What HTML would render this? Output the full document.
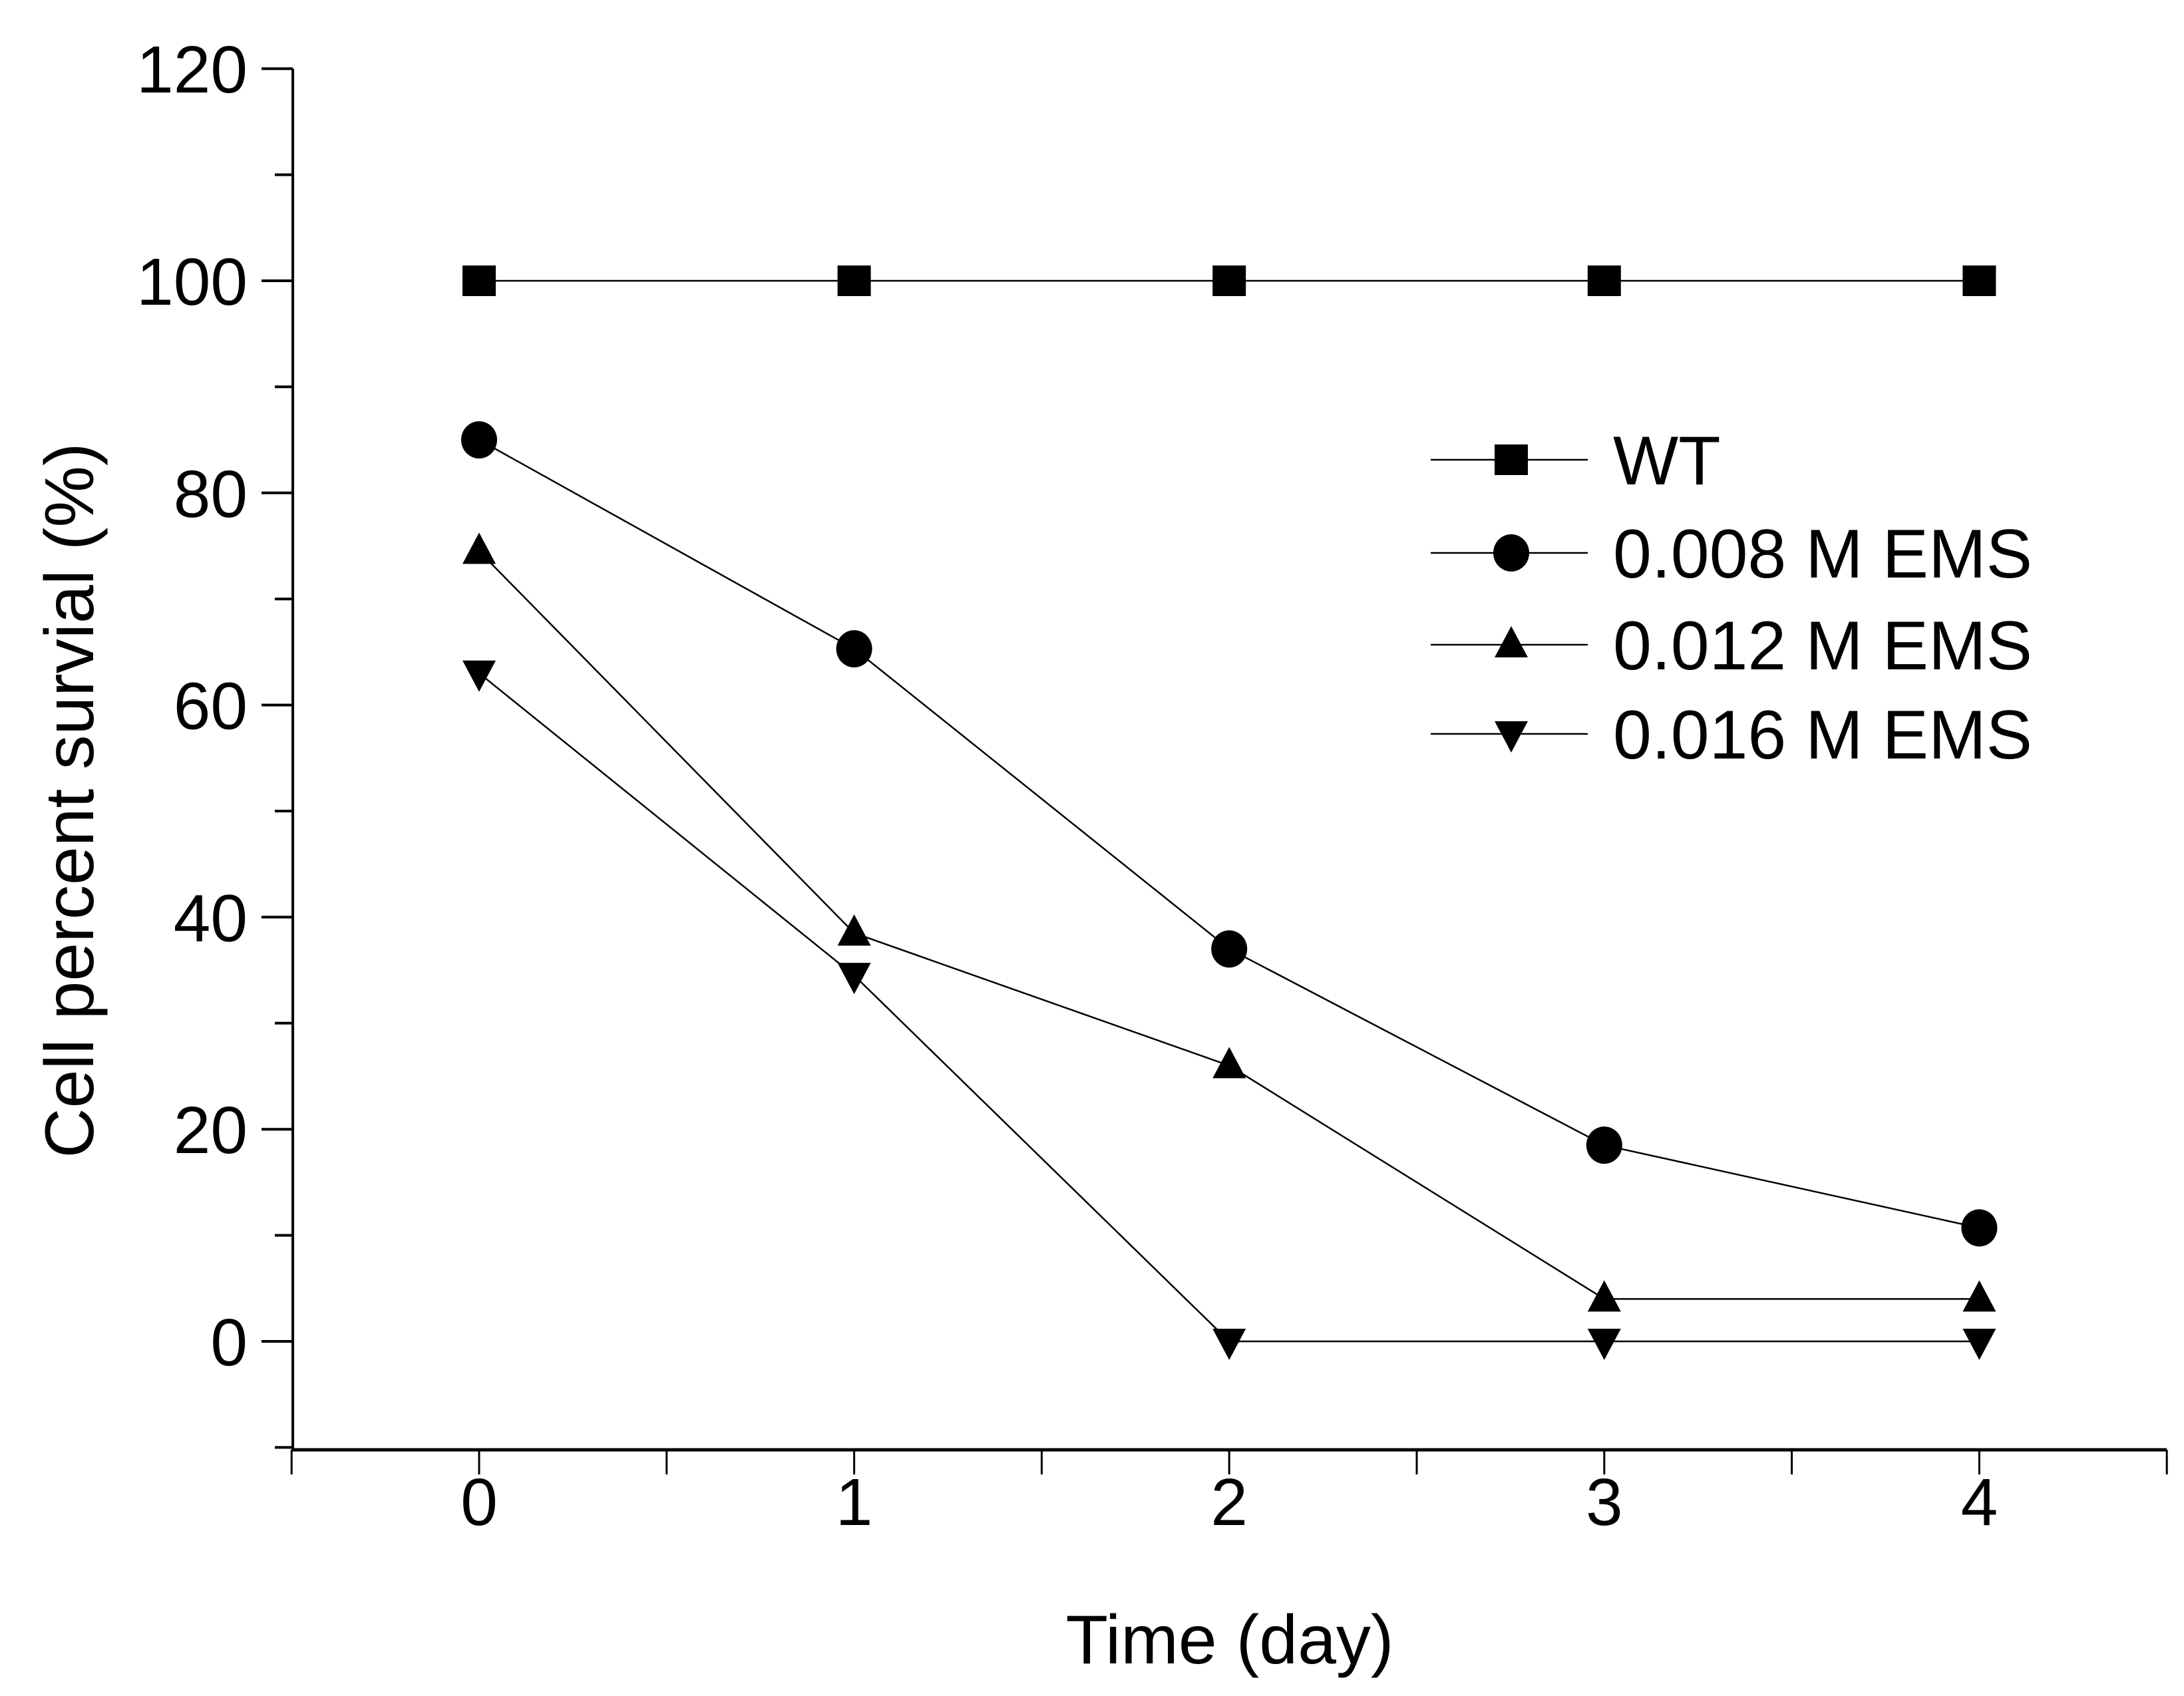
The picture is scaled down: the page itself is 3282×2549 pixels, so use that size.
<!DOCTYPE html>
<html><head><meta charset="utf-8"><style>
html,body{margin:0;padding:0;background:#fff}
svg{display:block;font-family:"Liberation Sans",Arial,sans-serif}
</style></head><body>
<svg id="chart" width="3282" height="2549" viewBox="0 0 3282 2549" xmlns="http://www.w3.org/2000/svg"></svg>
<script>
const days = [0, 1, 2, 3, 4];
const wtValues = [100, 100, 100, 100, 100];
const ems008Values = [85, 65.3, 37, 18.5, 10.7];
const ems012Values = [74.5, 38.5, 26, 4, 4];
const ems016Values = [63, 34.5, 0, 0, 0];
const seriesNames = ["WT", "0.008 M EMS", "0.012 M EMS", "0.016 M EMS"];
const yTickLabels = [0, 20, 40, 60, 80, 100, 120];
const xTickLabels = [0, 1, 2, 3, 4];

const NS = "http://www.w3.org/2000/svg";
const svg = document.getElementById("chart");
const X0 = 720, XU = 563.6;
const Y0 = 2016, YU = 15.94;
function sx(v){ return X0 + v * XU; }
function sy(v){ return Y0 - v * YU; }
function mk(tag, attrs, parent){
  const e = document.createElementNS(NS, tag);
  for (const k in attrs) e.setAttribute(k, attrs[k]);
  (parent || svg).appendChild(e);
  return e;
}
const axisLeft = 440, axisBottom = 2179, axisRight = sx(4.5), axisTop = sy(120);

let e = mk("line", {x1: axisLeft, y1: axisTop, x2: axisLeft, y2: axisBottom, stroke: "#000", "stroke-width": 4});


e = mk("line", {x1: axisLeft - 2, y1: axisBottom, x2: axisRight, y2: axisBottom, stroke: "#000", "stroke-width": 5});



for (let v = -10; v <= 120; v += 10) {
  const major = v % 20 === 0;
  e = mk("line", {x1: axisLeft - (major ? 47 : 27), y1: sy(v), x2: axisLeft, y2: sy(v), stroke: "#000", "stroke-width": 4});
  
  
}
yTickLabels.forEach(v => {
  const t = mk("text", {x: 372, y: sy(v) + 36, "text-anchor": "end", "font-size": 100});
  t.textContent = v;
  
  
});
for (let v = -0.5; v <= 4.5; v += 0.5) {
  e = mk("line", {x1: sx(v), y1: axisBottom, x2: sx(v), y2: axisBottom + 37, stroke: "#000", "stroke-width": 3});
  
  
}
xTickLabels.forEach(v => {
  const t = mk("text", {x: sx(v), y: 2292, "text-anchor": "middle", "font-size": 100});
  t.textContent = v;
  
  
});
let t = mk("text", {x: 1848, y: 2500, "text-anchor": "middle", "font-size": 104});
t.textContent = "Time (day)";


t = mk("text", {x: 0, y: 0, "text-anchor": "middle", "font-size": 104, transform: "translate(140,1203) rotate(-90)"});
t.textContent = "Cell percent survial (%)";



function marker(kind, cx, cy, g){
  if (kind === 0) return mk("rect", {x: cx - 25, y: cy - 23, width: 50, height: 46, fill: "#000"}, g);
  if (kind === 1) return mk("ellipse", {cx: cx, cy: cy, rx: 27, ry: 28, fill: "#000"}, g);
  if (kind === 2) return mk("polygon", {points: `${cx},${cy-28} ${cx+25},${cy+19} ${cx-25},${cy+19}`, fill: "#000"}, g);
  return mk("polygon", {points: `${cx-25},${cy-19} ${cx+25},${cy-19} ${cx},${cy+28}`, fill: "#000"}, g);
}
const allSeries = [wtValues, ems008Values, ems012Values, ems016Values];
const seriesIds = ["wt", "ems-0-008", "ems-0-012", "ems-0-016"];
allSeries.forEach((vals, i) => {
  const g = mk("g", {});
  
  
  const pts = vals.map((v, j) => sx(days[j]) + "," + sy(v)).join(" ");
  const pl = mk("polyline", {points: pts, fill: "none", stroke: "#000", "stroke-width": 2.5}, g);
  
  
  vals.forEach((v, j) => {
    const m = marker(i, sx(days[j]), sy(v), g);
    
    
  });
});
const legendRows = [691, 831, 969, 1103];
const lg = mk("g", {});


seriesNames.forEach((name, i) => {
  const y = legendRows[i];
  const g = mk("g", {}, lg);
  
  
  mk("line", {x1: 2150, y1: y, x2: 2386, y2: y, stroke: "#000", "stroke-width": 2.5}, g);
  marker(i, 2271, y, g);
  const tx = mk("text", {x: 2424, y: y + 37, "font-size": 104}, g);
  tx.textContent = name;
  
  
});
</script>
</body></html>
